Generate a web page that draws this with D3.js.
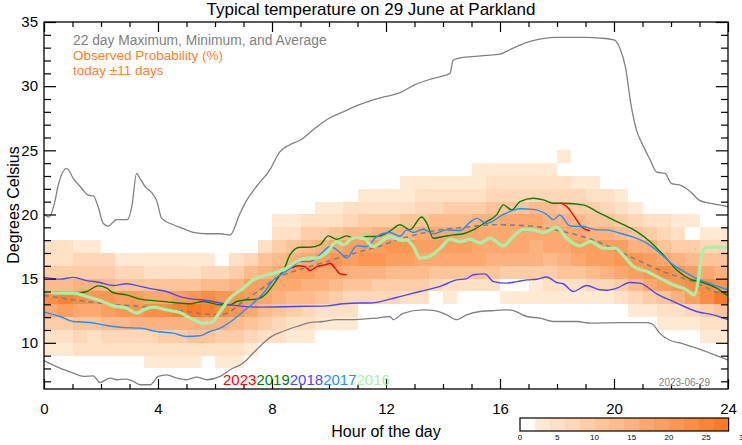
<!DOCTYPE html>
<html><head><meta charset="utf-8">
<script src="https://cdn.jsdelivr.net/npm/d3@7"></script>
<style>body{margin:0;background:#fff} svg{display:block} text{font-family:"Liberation Sans",Arial,Helvetica,sans-serif}</style>
</head><body><svg id="c" width="742" height="445"></svg>
<script>
const title = "Typical temperature on 29 June at Parkland";
const xTicks = [0,4,8,12,16,20,24];
const yTicks = [10,15,20,25,30,35];
const colorTicks = [0,5,10,15,20,25,30];
const legendLines = ["22 day Maximum, Minimum, and Average","Observed Probability (%)","today \u00b111 days"];
const dateLabel = "2023-06-29";

// observed probability (%) per half-hour column, listed upward from its lowest 1-degree row
const probStartRow = [9,9,9,9,9,9,9,8,8,8,8,9,8,8,9,10,10,10,10,11,11,11,13,13,13,13,13,14,13,14,14,14,13,13,13,13,13,13,13,13,13,12,12,11,11,11,10,10];
const probColumns = [
 [3,5,8,16,22,12,8,5,4],[3,5,9,18,24,12,8,4,4],[4,6,10,16,22,14,9,6,3],[4,5,10,17,20,14,9,6,3],
 [4,6,12,18,20,12,9,6],[4,6,12,20,18,10,7,3],[4,6,14,20,18,10,7,3],[3,4,7,14,22,17,10,5,3],
 [3,4,8,14,22,16,10,5,3],[3,4,8,15,24,18,10,5,3],[3,4,10,15,26,20,10,5,3],[4,10,14,24,22,12,7,3],
 [3,5,9,14,22,20,12,6],[3,4,8,12,20,20,14,8,4],[3,6,10,16,18,18,12,6],[5,8,12,16,18,14,10,4],
 [4,6,10,14,16,16,12,8,4,3],[3,5,8,12,16,18,14,10,5,3],[3,4,6,12,14,18,16,12,8,4],[3,5,10,14,16,18,14,8,5,3],
 [3,4,8,12,16,20,16,10,5,3],[3,4,6,10,14,18,18,12,7,4],[6,10,14,20,18,12,8,4,3],[6,8,14,20,18,14,8,4,3],
 [6,8,12,18,20,14,8,5,3],[5,8,12,18,20,14,10,5,3,3],[4,8,12,16,18,16,10,6,4,3],[6,10,16,18,16,12,6,4,3],
 [3,5,10,16,18,16,12,8,4,3],[5,10,16,18,16,12,8,5,3],[5,10,16,16,16,14,8,5,3,3],[4,10,14,16,16,14,10,6,4,3],
 [3,0,8,14,16,16,16,10,6,4,3],[3,0,8,14,16,16,16,10,6,4,3],[3,3,8,14,14,16,16,12,6,4,3],[3,4,8,12,16,16,14,12,6,4,3],
 [3,4,10,14,16,16,14,10,6,4,0,3],[3,5,10,16,18,16,12,8,6,3],[3,6,12,18,18,14,10,8,4,3],[3,6,14,18,18,14,10,6,4],
 [4,8,16,20,18,12,8,5,3],[3,6,12,18,20,14,10,6,3],[3,8,16,20,18,14,8,4],[3,4,10,18,22,16,10,6,4],
 [3,5,14,20,20,14,8,5,3],[3,6,18,22,18,12,8,0,3],[3,4,8,22,22,16,10,6,3],[3,4,10,26,20,14,10,6,3]
];

const maxLine = [[0,20.0],[0.18,19.8],[0.39,21.1],[0.5,22.3],[0.8,23.6],[1.03,22.8],[1.26,22.2],[1.56,21.5],[1.73,21.45],[1.9,20.6],[2.08,19.3],[2.25,19.1],[2.55,19.6],[2.92,19.6],[3.08,20.6],[3.25,23.2],[3.37,22.8],[3.54,22.2],[3.78,21.7],[3.95,21.1],[4.13,19.7],[4.54,19.2],[4.89,18.9],[5.24,18.6],[5.71,18.5],[6.18,18.5],[6.53,18.4],[6.88,20.1],[7.11,21.1],[7.46,22.2],[7.93,23.5],[8.28,24.9],[8.6,25.4],[9.0,25.8],[9.5,26.7],[10.0,27.5],[10.5,28.0],[11.0,28.5],[11.5,28.9],[12.0,29.2],[12.5,29.5],[13.0,30.1],[13.5,30.5],[14.0,30.8],[14.25,31.0],[14.35,32.0],[14.6,32.2],[15.0,32.3],[15.5,32.4],[16.0,32.5],[16.4,32.9],[16.7,33.2],[17.1,33.5],[17.5,33.7],[18.0,33.8],[18.5,33.8],[19.0,33.8],[19.5,33.75],[20.0,33.6],[20.2,33.0],[20.4,31.5],[20.6,28.5],[20.8,26.5],[20.97,25.6],[21.26,24.3],[21.5,23.3],[21.79,23.2],[22.02,22.4],[22.3,22.3],[22.67,21.8],[23.0,21.1],[23.3,20.9],[23.7,20.75],[24,20.6]];
const minLine = [[0,8.62],[0.18,8.42],[0.56,8.03],[1.03,7.64],[1.38,7.38],[1.73,7.43],[1.96,6.9],[2.32,7.25],[2.55,7.12],[2.84,7.17],[3.08,7.06],[3.37,6.73],[3.72,6.73],[4.01,7.38],[4.3,7.5],[4.66,7.25],[5.0,7.12],[5.36,7.33],[5.71,7.12],[6.18,7.38],[6.53,7.9],[6.99,8.42],[7.34,9.2],[7.7,9.98],[7.99,10.5],[8.4,10.9],[8.87,11.27],[9.33,11.58],[9.8,11.66],[10.27,11.8],[10.74,11.8],[11.2,11.85],[11.67,11.92],[12.14,12.05],[12.26,11.8],[12.6,12.3],[13.3,12.57],[13.66,12.52],[14.13,12.18],[14.48,11.8],[14.83,12.18],[15.3,12.44],[15.88,12.52],[16.23,12.57],[16.47,12.5],[16.94,12.05],[17.4,11.92],[17.87,11.66],[18.2,11.66],[18.7,11.66],[19.16,11.53],[20.1,11.58],[20.56,11.58],[21.15,11.58],[21.38,11.4],[21.6,10.75],[21.96,10.2],[22.43,9.92],[22.9,9.58],[23.37,9.2],[24,8.67]];
const avgLine = [[0,13.7],[1.03,13.35],[2.2,13.04],[3.37,12.83],[4.54,12.57],[5.71,12.23],[6.18,12.2],[6.41,12.3],[6.99,13.22],[7.58,14.13],[8.16,15.04],[8.75,15.55],[9.33,15.94],[9.92,16.33],[10.5,16.72],[11.09,17.1],[11.67,17.45],[12.37,18.0],[13.54,18.67],[14.71,19.0],[15.88,19.2],[17.05,19.1],[18.22,18.67],[19.4,17.9],[20.56,16.72],[21.73,15.55],[22.9,14.65],[23.6,13.95],[24,13.75]];

const y2023a = [[8.69,15.82],[8.92,16.0],[9.16,15.94],[9.33,15.63],[9.57,15.94],[9.86,16.07],[10.04,16.2],[10.21,15.82],[10.39,15.37],[10.62,15.3]];
const y2023b = [[18.1,20.9],[18.34,20.62],[18.57,19.97],[18.86,19.05],[19.04,18.8],[19.16,18.75]];
const y2019 = [[0,14.0],[0.56,13.9],[1.03,13.85],[1.5,14.0],[1.9,14.44],[2.2,14.26],[2.43,13.9],[2.9,13.74],[3.37,13.4],[3.95,13.27],[4.54,13.14],[5.12,13.04],[5.59,13.22],[6.18,12.96],[6.53,12.96],[6.76,13.22],[7.11,13.35],[7.46,13.4],[7.81,13.87],[8.16,14.9],[8.46,15.94],[8.63,16.85],[8.98,17.45],[9.33,17.45],[9.68,17.63],[9.98,18.33],[10.27,18.07],[10.62,18.33],[10.97,18.07],[11.32,18.28],[11.67,18.28],[12.14,18.7],[12.49,19.2],[12.84,18.8],[13.25,19.8],[13.43,19.32],[13.66,18.15],[14.01,18.28],[14.36,18.41],[14.71,18.5],[15.06,18.8],[15.53,19.45],[15.88,19.97],[16.12,20.75],[16.41,20.36],[16.7,21.0],[17.17,21.27],[17.52,21.14],[17.87,20.88],[18.22,20.88],[18.92,20.75],[19.39,20.23],[20.1,19.45],[20.8,18.67],[21.26,17.9],[21.73,16.85],[22.2,15.68],[22.67,14.96],[23.13,14.7],[23.6,14.26],[24,13.65]];
const y2018 = [[0,15.1],[0.56,14.96],[1.03,15.1],[1.5,14.85],[1.96,14.7],[2.43,14.46],[2.9,14.6],[3.37,14.4],[3.84,14.18],[4.3,14.0],[4.77,13.6],[5.24,13.4],[5.71,13.3],[6.18,13.1],[6.53,12.96],[7.58,12.78],[8.75,12.83],[9.92,12.88],[10.5,13.04],[11.09,13.1],[11.44,13.1],[12.14,13.4],[12.49,13.6],[13.19,14.0],[13.9,14.4],[14.48,14.9],[14.83,15.0],[15.06,15.3],[15.47,15.37],[15.77,14.77],[16.23,14.65],[16.58,14.77],[16.94,14.9],[17.29,14.95],[17.64,15.13],[17.99,14.7],[18.22,14.6],[18.57,14.0],[19.04,14.47],[19.5,14.13],[19.74,14.1],[20.1,14.26],[20.56,14.7],[20.9,14.65],[21.5,13.82],[22.2,13.1],[22.9,12.44],[23.48,12.18],[24,11.8]];
const y2017 = [[0,12.39],[0.56,12.05],[1.03,11.66],[1.61,11.58],[2.2,11.35],[2.78,11.19],[3.37,11.14],[3.95,10.88],[4.54,10.75],[5.0,10.49],[5.47,10.55],[5.82,10.88],[6.18,11.14],[6.64,11.8],[6.99,12.44],[7.34,13.09],[7.7,13.87],[8.05,14.9],[8.4,15.43],[8.75,16.0],[8.98,16.33],[9.33,16.33],[9.68,16.85],[10.04,17.5],[10.39,17.03],[10.62,16.6],[10.97,17.55],[11.32,17.5],[11.67,18.28],[12.14,18.6],[12.49,18.3],[12.73,18.8],[12.96,18.6],[13.3,18.85],[13.66,18.5],[14.13,18.8],[14.6,18.75],[14.95,19.4],[15.18,19.7],[15.53,19.3],[16.12,20.0],[16.7,20.45],[17.17,20.4],[17.64,20.0],[17.87,19.6],[18.1,19.95],[18.46,19.1],[18.92,19.06],[19.39,18.8],[19.74,18.8],[20.2,18.54],[20.68,18.23],[21.15,17.77],[21.61,17.0],[22.08,16.07],[22.55,15.43],[23.0,14.9],[23.48,14.52],[24,14.13]];
const y2016 = [[0,14.0],[0.56,13.87],[1.03,13.87],[1.5,13.61],[1.96,13.3],[2.43,12.88],[2.9,12.7],[3.25,12.31],[3.49,12.57],[3.84,12.78],[4.3,12.57],[4.77,12.36],[5.24,11.8],[5.59,11.53],[5.88,11.58],[6.18,12.44],[6.53,13.48],[6.99,14.26],[7.34,14.9],[7.7,15.22],[8.16,15.48],[8.51,15.82],[8.87,16.33],[9.22,16.6],[9.57,16.6],[9.92,17.03],[10.27,17.89],[10.5,17.63],[10.85,18.15],[11.2,18.15],[11.55,17.5],[11.9,18.0],[12.14,18.3],[12.49,18.0],[12.73,18.0],[12.96,17.5],[13.19,16.6],[13.54,16.75],[13.9,17.37],[14.25,18.07],[14.6,17.89],[14.95,18.07],[15.3,17.77],[15.65,18.15],[16.12,17.55],[16.47,18.3],[16.82,18.85],[17.17,18.8],[17.52,18.6],[17.99,19.0],[18.34,18.15],[18.81,17.55],[19.16,17.9],[19.63,17.37],[20.04,17.37],[20.33,16.8],[20.68,15.94],[21.15,15.55],[21.61,15.04],[22.08,14.52],[22.55,14.13],[22.81,13.74],[22.96,14.9],[23.08,16.98],[23.25,17.45],[23.72,17.45],[24,17.37]];

const years = ["2023","2019","2018","2017","2016"];
const yearColors = ["#ff0000","#008000","#4848ff","#1e90ff","#a8f0a8"];
const yearData = [[y2023a,y2023b],[y2019],[y2018],[y2017],[y2016]];

const svg = d3.select("#c");
svg.append("rect").attr("width",742).attr("height",445).attr("fill","#fff");
const L=44,R=728,T=22,B=389;
const x = d3.scaleLinear([0,24],[L,R]);
const y = d3.scaleLinear([6.4,35],[B,T]);

const lo = d3.rgb("#fee9d3"), hi = d3.rgb("#fa7a28");
const levelColors = d3.range(13).map(i => d3.interpolateRgb(lo,hi)(i/12));
const color = d3.scaleThreshold().domain(d3.range(2,28,2)).range(["#ffffff"].concat(levelColors));

svg.append("clipPath").attr("id","plot").append("rect").attr("x",L).attr("y",T).attr("width",R-L).attr("height",B-T);
const g = svg.append("g").attr("clip-path","url(#plot)");

const cells = [];
probColumns.forEach((col,c)=>col.forEach((v,i)=>{ if(v>=2) cells.push({h:c*0.5,t:probStartRow[c]+i,v}); }));
g.selectAll("rect.cell").data(cells).join("rect").attr("class","cell")
 .attr("x",d=>x(d.h)).attr("width",d=>x(d.h+0.5)-x(d.h))
 .attr("y",d=>y(d.t+1)).attr("height",d=>y(d.t)-y(d.t+1))
 .attr("fill",d=>color(d.v)).attr("shape-rendering","crispEdges");

const line = d3.line().x(d=>x(d[0])).y(d=>y(d[1])).curve(d3.curveMonotoneX);
g.append("path").attr("d",line(maxLine)).attr("fill","none").attr("stroke","#808080").attr("stroke-width",1.3);
g.append("path").attr("d",line(minLine)).attr("fill","none").attr("stroke","#808080").attr("stroke-width",1.3);
g.append("path").attr("d",line(avgLine)).attr("fill","none").attr("stroke","#808080").attr("stroke-width",1.6).attr("stroke-dasharray","5,4");

years.forEach((yr,i)=>{
  yearData[i].forEach(seg=>{
    g.append("path").attr("d",line(seg)).attr("fill","none").attr("stroke",yearColors[i])
     .attr("stroke-width", yr==="2016"?3.2:1.4).attr("stroke-linejoin","round");
  });
});

// frame and axes
svg.append("rect").attr("x",L).attr("y",T).attr("width",R-L).attr("height",B-T).attr("fill","none").attr("stroke","#000").attr("stroke-width",1.3);
const minorY = d3.range(7,36).filter(v=>v%5!==0);
const minorX = d3.range(0,25).filter(v=>v%4!==0);
function ax(gen, tr, vals, size, labels){
  const a = svg.append("g").attr("transform",tr).call(gen.tickValues(vals).tickSize(size).tickFormat(labels?null:""));
  a.select(".domain").remove();
  a.selectAll("line").attr("stroke","#000").attr("stroke-width",1.2);
  return a;
}
const la = ax(d3.axisLeft(y).tickPadding(6),`translate(${L},0)`,yTicks,-12,true);
ax(d3.axisLeft(y),`translate(${L},0)`,minorY,-7,false);
ax(d3.axisRight(y),`translate(${R},0)`,yTicks,-12,false);
ax(d3.axisRight(y),`translate(${R},0)`,minorY,-7,false);
const ba = ax(d3.axisBottom(x).tickPadding(14),`translate(0,${B})`,xTicks,-10,true);
ax(d3.axisBottom(x),`translate(0,${B})`,minorX,-5,false);
ax(d3.axisTop(x),`translate(0,${T})`,xTicks,-10,false);
ax(d3.axisTop(x),`translate(0,${T})`,minorX,-5,false);
la.selectAll("text").attr("font-size",15).attr("fill","#000").attr("font-family",'"Liberation Sans",Arial,sans-serif');
ba.selectAll("text").attr("font-size",15).attr("fill","#000").attr("font-family",'"Liberation Sans",Arial,sans-serif');

svg.append("text").attr("x",371).attr("y",15).attr("text-anchor","middle").attr("font-size",17).text(title);
svg.append("text").attr("x",(L+R)/2).attr("y",437).attr("text-anchor","middle").attr("font-size",16).text("Hour of the day");
svg.append("text").attr("transform","translate(19,205) rotate(-90)").attr("text-anchor","middle").attr("font-size",16).text("Degrees Celsius");

const legCol = ["#7f7f7f","#ff7f2a","#ff7f2a"];
const legY = [44.5,59.8,75];
const legSize = [13.8,13.5,13.5];
legendLines.forEach((t,i)=>svg.append("text").attr("x",73).attr("y",legY[i]).attr("font-size",legSize[i]).attr("fill",legCol[i]).text(t));

const yt = svg.append("text").attr("x",223).attr("y",385).attr("font-size",15);
years.forEach((yr,i)=>yt.append("tspan").attr("fill",yearColors[i]).text(yr));

svg.append("text").attr("x",710).attr("y",386).attr("text-anchor","end").attr("font-size",10).attr("fill","#808080").text(dateLabel);

// colour bar
const cb = d3.scaleLinear([0,30],[520,743.5]);
const cbLevels = d3.range(0,28,2);
svg.selectAll("rect.cb").data(cbLevels).join("rect").attr("class","cb")
 .attr("x",d=>cb(d)).attr("width",d=>cb(d+2)-cb(d)).attr("y",418).attr("height",13)
 .attr("fill",d=>color(d+0.5)).attr("shape-rendering","crispEdges");
svg.append("rect").attr("x",cb(0)).attr("y",418).attr("width",cb(28)-cb(0)).attr("height",13).attr("fill","none").attr("stroke","#000").attr("stroke-width",1.2);
svg.selectAll("text.cbl").data(colorTicks).join("text").attr("class","cbl")
 .attr("x",d=>cb(d)).attr("y",440).attr("text-anchor","middle").attr("font-size",8).text(d=>d);
</script></body></html>
